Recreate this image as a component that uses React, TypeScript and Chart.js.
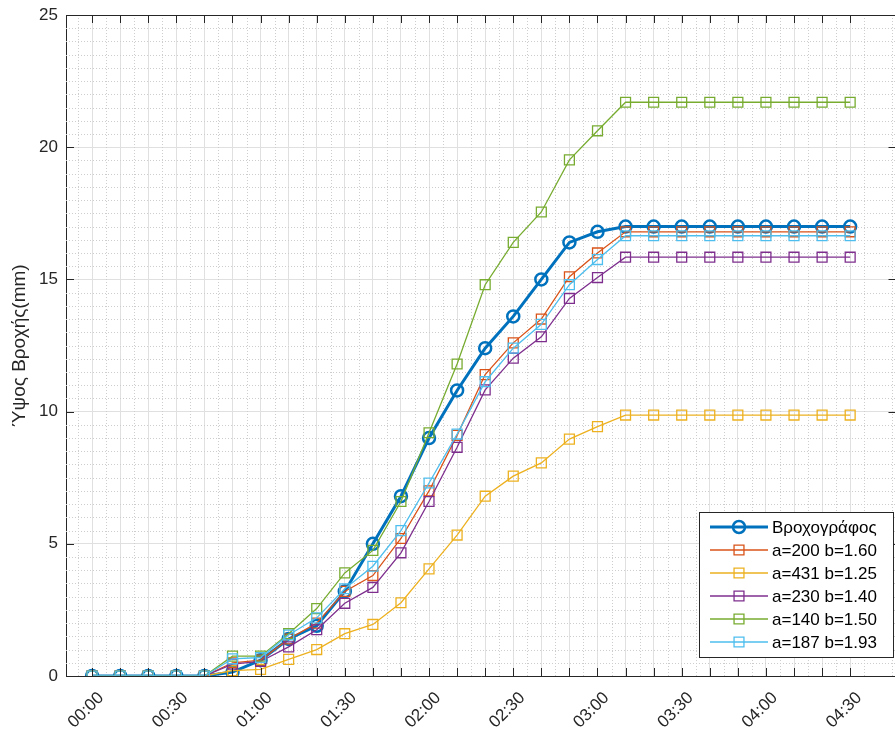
import React, { useEffect, useRef } from 'react';
import { Chart, registerables } from 'chart.js';

Chart.register(...registerables);

// ---- data ----
const times = [
  '00:00', '00:10', '00:20', '00:30', '00:40', '00:50',
  '01:00', '01:10', '01:20', '01:30', '01:40', '01:50',
  '02:00', '02:10', '02:20', '02:30', '02:40', '02:50',
  '03:00', '03:10', '03:20', '03:30', '03:40', '03:50',
  '04:00', '04:10', '04:20', '04:30',
];

const tickLabels = ['00:00', '00:30', '01:00', '01:30', '02:00', '02:30', '03:00', '03:30', '04:00', '04:30'];

const seriesNames = ['Βροχογράφος', 'a=200 b=1.60', 'a=431 b=1.25', 'a=230 b=1.40', 'a=140 b=1.50', 'a=187 b=1.93'];

const rainGauge = [0, 0, 0, 0, 0, 0.15, 0.6, 1.4, 1.9, 3.2, 5.0, 6.8, 9.0, 10.8, 12.4, 13.6, 15.0, 16.4, 16.8, 17.0, 17.0, 17.0, 17.0, 17.0, 17.0, 17.0, 17.0, 17.0];
const a200b160 = [0, 0, 0, 0, 0, 0.5, 0.6, 1.4, 2.0, 3.2, 3.8, 5.2, 7.0, 9.1, 11.4, 12.6, 13.5, 15.1, 16.0, 16.8, 16.8, 16.8, 16.8, 16.8, 16.8, 16.8, 16.8, 16.8];
const a431b125 = [0, 0, 0, 0, 0, 0.2, 0.25, 0.63, 1.0, 1.6, 1.95, 2.77, 4.05, 5.33, 6.8, 7.56, 8.06, 8.96, 9.43, 9.87, 9.87, 9.87, 9.87, 9.87, 9.87, 9.87, 9.87, 9.87];
const a230b140 = [0, 0, 0, 0, 0, 0.45, 0.55, 1.1, 1.75, 2.75, 3.35, 4.66, 6.6, 8.65, 10.82, 12.02, 12.83, 14.28, 15.07, 15.84, 15.84, 15.84, 15.84, 15.84, 15.84, 15.84, 15.84, 15.84];
const a140b150 = [0, 0, 0, 0, 0, 0.75, 0.75, 1.6, 2.55, 3.9, 4.75, 6.6, 9.2, 11.8, 14.8, 16.4, 17.55, 19.52, 20.62, 21.7, 21.7, 21.7, 21.7, 21.7, 21.7, 21.7, 21.7, 21.7];
const a187b193 = [0, 0, 0, 0, 0, 0.65, 0.7, 1.55, 2.2, 3.3, 4.15, 5.5, 7.3, 9.15, 11.13, 12.4, 13.3, 14.8, 15.75, 16.65, 16.65, 16.65, 16.65, 16.65, 16.65, 16.65, 16.65, 16.65];

const seriesValues = [rainGauge, a200b160, a431b125, a230b140, a140b150, a187b193];
const colors = ['#0072BD', '#D95319', '#EDB120', '#7E2F8E', '#77AC30', '#4DBEEE'];

const FONT = "'Liberation Sans', Arial, Helvetica, sans-serif";
const AXIS_COLOR = '#262626';

const toMinutes = (t: string) => {
  const [h, m] = t.split(':').map(Number);
  return h * 60 + m;
};
const minutes = times.map(toMinutes);
const labelMinutes = tickLabels.map(toMinutes);

const matlabPlugin = {
  id: 'matlabAxes',
  beforeDatasetsDraw(chart: any) {
    const { ctx, chartArea, scales } = chart;
    const { left, right, top, bottom } = chartArea;
    const x = scales.x;
    const y = scales.y;
    ctx.save();
    ctx.beginPath();
    ctx.rect(left, top, right - left, bottom - top);
    ctx.clip();
    ctx.strokeStyle = '#cdcdcd';
    ctx.lineWidth = 1;
    ctx.setLineDash([1, 2]);
    // minor vertical grid (5 min)
    for (let v = -5; v <= 290; v += 10) {
      const px = Math.round(x.getPixelForValue(v)) + 0.5;
      ctx.beginPath();
      ctx.moveTo(px, top);
      ctx.lineTo(px, bottom);
      ctx.stroke();
    }
    // minor horizontal grid (0.5)
    for (let i = 1; i < 50; i++) {
      if (i % 10 === 0) continue;
      const py = Math.round(y.getPixelForValue(i * 0.5)) + 0.5;
      ctx.beginPath();
      ctx.moveTo(left, py);
      ctx.lineTo(right, py);
      ctx.stroke();
    }
    ctx.restore();
  },
  afterDraw(chart: any) {
    const { ctx, chartArea, scales } = chart;
    const { left, right, top, bottom } = chartArea;
    const x = scales.x;
    const y = scales.y;
    ctx.save();
    ctx.strokeStyle = AXIS_COLOR;
    ctx.lineWidth = 1;
    ctx.setLineDash([]);
    // box top / right
    ctx.beginPath();
    ctx.moveTo(left, Math.round(top) + 0.5);
    ctx.lineTo(right, Math.round(top) + 0.5);
    ctx.moveTo(Math.round(right) - 0.5, top);
    ctx.lineTo(Math.round(right) - 0.5, bottom);
    ctx.stroke();
    // inward ticks
    const TL = 8;
    ctx.beginPath();
    for (const m of minutes) {
      const px = Math.round(x.getPixelForValue(m)) + 0.5;
      ctx.moveTo(px, bottom);
      ctx.lineTo(px, bottom - TL);
      ctx.moveTo(px, top);
      ctx.lineTo(px, top + TL);
    }
    for (let v = 0; v <= 25; v += 5) {
      const py = Math.round(y.getPixelForValue(v)) + 0.5;
      ctx.moveTo(left, py);
      ctx.lineTo(left + TL, py);
      ctx.moveTo(right, py);
      ctx.lineTo(right - TL, py);
    }
    ctx.stroke();

    // legend
    const bx = 699.5, by = 512.5, bw = 194, bh = 145;
    ctx.fillStyle = '#ffffff';
    ctx.fillRect(bx, by, bw, bh);
    ctx.strokeStyle = AXIS_COLOR;
    ctx.lineWidth = 1;
    ctx.strokeRect(bx, by, bw, bh);
    ctx.font = `17px ${FONT}`;
    ctx.textBaseline = 'middle';
    ctx.textAlign = 'left';
    chart.data.datasets.forEach((ds: any, i: number) => {
      const cy = 527 + i * 23;
      ctx.strokeStyle = ds.borderColor;
      ctx.lineWidth = ds.borderWidth;
      ctx.beginPath();
      ctx.moveTo(710, cy);
      ctx.lineTo(768, cy);
      ctx.stroke();
      ctx.lineWidth = ds.pointBorderWidth;
      ctx.beginPath();
      if (ds.pointStyle === 'circle') {
        ctx.arc(739, cy, ds.pointRadius, 0, Math.PI * 2);
      } else {
        const s = ds.pointRadius * Math.SQRT1_2;
        ctx.rect(739 - s, cy - s, 2 * s, 2 * s);
      }
      ctx.stroke();
      ctx.fillStyle = '#000000';
      ctx.fillText(ds.label, 772, cy + 1);
    });
    ctx.restore();
  },
};

export default function App() {
  const canvasRef = useRef<HTMLCanvasElement | null>(null);

  useEffect(() => {
    if (!canvasRef.current) return;
    const datasets = seriesValues.map((vals, i) => {
      const main = i === 0;
      return {
        label: seriesNames[i],
        data: minutes.map((m, j) => ({ x: m, y: vals[j] })),
        borderColor: colors[i],
        backgroundColor: colors[i],
        borderWidth: main ? 3 : 1.3,
        pointStyle: main ? 'circle' : 'rect',
        pointRadius: main ? 6 : 7,
        pointBorderWidth: main ? 2.5 : 1.3,
        pointBackgroundColor: 'rgba(0,0,0,0)',
        pointBorderColor: colors[i],
        fill: false,
        tension: 0,
        order: seriesValues.length - 1 - i,
      };
    });

    const chart = new Chart(canvasRef.current, {
      type: 'line',
      data: { datasets },
      plugins: [matlabPlugin],
      options: {
        animation: false,
        responsive: false,
        devicePixelRatio: 1,
        layout: { padding: { top: 15, right: 4, left: 0, bottom: 0 } },
        plugins: {
          legend: { display: false },
          tooltip: { enabled: false },
          title: { display: false },
        },
        scales: {
          x: {
            type: 'linear',
            min: -9.3,
            max: 286.5,
            afterBuildTicks: (scale: any) => {
              scale.ticks = minutes.map((m) => ({ value: m }));
            },
            afterFit: (scale: any) => {
              scale.height = 57;
              scale.paddingLeft = 0;
              scale.paddingRight = 0;
            },
            ticks: {
              autoSkip: false,
              minRotation: 45,
              maxRotation: 45,
              labelOffset: 9,
              padding: 12,
              color: AXIS_COLOR,
              font: { family: FONT, size: 17 },
              callback: (value: any) => {
                const k = labelMinutes.indexOf(Number(value));
                return k >= 0 ? tickLabels[k] : '';
              },
            },
            grid: { color: '#e0e0e0', lineWidth: 1, drawTicks: false },
            border: { display: true, color: AXIS_COLOR, width: 1 },
          },
          y: {
            type: 'linear',
            min: 0,
            max: 25,
            afterFit: (scale: any) => {
              scale.width = 66;
              scale.paddingTop = 0;
              scale.paddingBottom = 0;
            },
            ticks: {
              stepSize: 5,
              padding: 8,
              color: AXIS_COLOR,
              font: { family: FONT, size: 17 },
            },
            grid: { color: '#e0e0e0', lineWidth: 1, drawTicks: false },
            border: { display: true, color: AXIS_COLOR, width: 1 },
            title: {
              display: true,
              text: 'Ύψος Βροχής(mm)',
              color: AXIS_COLOR,
              font: { family: FONT, size: 19 },
              padding: { top: 8, bottom: 0 },
            },
          },
        },
      },
    });
    return () => chart.destroy();
  }, []);

  return (
    <div
      style={{
        position: 'fixed',
        left: 0,
        top: 0,
        width: 895,
        height: 733,
        overflow: 'hidden',
        background: '#ffffff',
      }}
    >
      <canvas ref={canvasRef} width={905} height={733} style={{ display: 'block', width: 905, height: 733 }} />
    </div>
  );
}
